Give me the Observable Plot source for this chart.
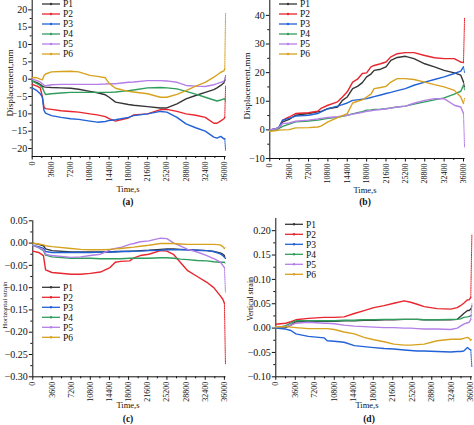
<!DOCTYPE html>
<html><head><meta charset="utf-8">
<script src="https://cdn.jsdelivr.net/npm/d3@7"></script>
<script src="https://cdn.jsdelivr.net/npm/@observablehq/plot@0.6"></script>
<style>
body{margin:0;background:#fff;}
#fig{position:relative;width:474px;height:425px;overflow:hidden;font-family:"Liberation Serif","Times New Roman",serif;color:#111;}
.panel{position:absolute;}
.lbl{position:absolute;font-size:8.5px;white-space:nowrap;transform:translate(-50%,-50%);}
.ylbl{position:absolute;white-space:nowrap;transform:translate(-50%,-50%) rotate(-90deg);}
.cap{position:absolute;font-size:9.5px;font-weight:bold;white-space:nowrap;transform:translate(-50%,-50%);}
#leg{position:absolute;left:0;top:0;pointer-events:none;}
</style></head><body><div id="fig"></div>
<script>
const seriesNames = ["P1","P2","P3","P4","P5","P6"];
const seriesColors = ["#363636","#e8262f","#2162d6","#2f9d5c","#b47fe6","#d7a21f"];
const xTickValues = [0,3600,7200,10800,14400,18000,21600,25200,28800,32400,36000];

// (a) Displacement, mm
const tA = [0,900,1500,1900,2200,2500,3600,5400,7200,8700,10800,12200,13700,14400,15600,18000,19000,21600,24000,25200,27100,28800,30600,32400,34000,34600,35300,35900,36050,36200];
const a1 = [-0.5,-1.0,-1.5,-2.0,-2.2,-2.3,-2.4,-2.5,-2.6,-2.9,-3.5,-3.9,-4.5,-5.2,-6.6,-7.3,-7.5,-7.9,-8.3,-8.3,-7.1,-5.7,-4.7,-3.8,-3.0,-2.5,-1.8,-1.0,-0.4,1.0];
const a2 = [-1.5,-2.0,-2.5,-5.0,-8.0,-8.5,-8.7,-9.1,-9.3,-9.5,-10.0,-10.3,-10.8,-11.4,-12.1,-11.2,-10.3,-10.0,-8.8,-8.7,-9.3,-10.0,-10.4,-11.0,-12.7,-12.7,-12.0,-11.4,-11.0,-2.0];
const a3 = [-2.5,-3.3,-4.2,-5.2,-9.0,-9.8,-10.5,-11.0,-11.4,-11.6,-12.1,-12.4,-12.2,-11.9,-11.7,-11.0,-10.5,-10.0,-9.3,-9.5,-11.0,-12.9,-14.0,-15.0,-16.7,-17.0,-16.5,-17.2,-17.2,-20.5];
const a4 = [-0.5,-1.3,-1.8,-2.5,-3.5,-4.4,-4.2,-4.0,-3.8,-3.8,-3.8,-3.8,-3.8,-3.8,-3.7,-3.3,-3.1,-2.5,-2.4,-2.5,-2.8,-3.5,-4.3,-5.2,-6.0,-6.3,-6.0,-5.7,-5.7,-6.5];
const a5 = [0,-0.4,-0.8,-1.3,-1.7,-1.9,-1.6,-1.5,-1.5,-1.5,-1.5,-1.5,-1.4,-1.3,-1.3,-0.9,-0.8,-0.4,-0.4,-0.5,-0.9,-1.8,-2.0,-2.1,-1.6,-1.3,-0.9,-0.6,-0.2,1.0];
const a6 = [0.5,0.4,0.0,-0.2,1.0,1.5,2.1,2.2,2.3,2.1,1.1,0.8,0.4,-1.2,-2.6,-3.5,-3.7,-4.2,-5.2,-5.2,-4.4,-3.3,-2.0,-0.9,0.6,1.2,2.0,2.4,3.0,19.0];
const yTicksA = [-20,-15,-10,-5,0,5,10,15,20];

// (b) Displacement, mm
const tB = [0,1000,1700,2400,3600,4800,7200,8900,9500,10800,12600,13500,14400,15400,16300,17200,18000,18800,19400,20600,21600,22500,23700,25200,26800,28800,30600,32400,34300,35500,36000,36200];
const b1 = [0,0.2,0.5,2.8,3.7,5.1,5.7,6.3,6.4,7.4,8.0,10.3,11.5,14.4,15.2,16.5,18.5,19.5,20.8,21.2,22.0,24.3,25.3,25.7,24.9,23.1,22.0,20.8,19.9,19.1,16.7,15.0];
const b2 = [0,0.3,0.8,3.4,4.5,5.7,6.0,6.5,7.5,8.6,9.8,11.5,13.3,16.7,17.7,19.7,19.9,22.0,22.5,23.1,23.7,25.5,26.6,27.0,27.0,26.0,25.2,24.9,24.9,23.7,23.5,39.0];
const b3 = [0,0.3,1.0,3.4,4.0,4.8,5.1,5.7,6.3,7.4,8.3,8.8,9.4,10.3,10.5,10.7,10.9,11.3,11.6,12.2,12.7,13.1,13.7,14.4,15.6,16.7,17.6,18.5,19.7,20.5,22.0,20.0];
const b4 = [-0.3,0,0.5,1.2,2.0,2.8,3.1,3.4,3.6,4.0,4.4,4.7,5.1,5.6,6.0,6.4,6.9,7.0,7.1,7.2,7.4,7.7,8.0,8.3,9.0,9.8,10.5,11.2,12.5,13.5,15.6,14.0];
const b5 = [0,0.3,0.8,2.2,2.4,3.0,3.4,3.8,4.0,4.3,4.6,4.9,5.1,5.5,5.8,6.1,6.5,6.7,6.9,7.1,7.4,7.6,8.0,8.3,9.3,10.3,10.9,10.9,8.6,8.0,5.7,-6.0];
const b6 = [-0.5,-0.3,-0.1,0,0.1,0.7,0.8,1.0,1.3,2.8,4.3,5.0,5.7,9.4,10.0,10.5,11.5,12.5,14.4,14.8,15.2,16.7,17.9,17.9,17.6,16.7,15.8,15.0,13.8,11.5,9.2,11.0];
const yTicksB = [-10,0,10,20,30,40];

// (c) Horizontal strain
const tC = [0,1100,2000,2400,3600,7200,9000,10800,12700,13300,14500,15500,16500,18200,19000,20200,21800,24000,25200,26500,27700,29100,30900,32700,34000,35200,35700,36000,36200];
const c1 = [0,-0.003,-0.006,-0.013,-0.017,-0.020,-0.020,-0.020,-0.020,-0.020,-0.020,-0.019,-0.019,-0.018,-0.018,-0.017,-0.016,-0.014,-0.013,-0.013,-0.014,-0.015,-0.016,-0.017,-0.019,-0.022,-0.025,-0.028,-0.035];
const c2 = [-0.018,-0.021,-0.028,-0.060,-0.066,-0.070,-0.070,-0.068,-0.065,-0.062,-0.055,-0.043,-0.041,-0.040,-0.033,-0.028,-0.025,-0.017,-0.018,-0.026,-0.043,-0.062,-0.075,-0.088,-0.100,-0.118,-0.126,-0.135,-0.272];
const c3 = [-0.005,-0.008,-0.012,-0.019,-0.021,-0.021,-0.021,-0.021,-0.020,-0.020,-0.020,-0.020,-0.019,-0.019,-0.018,-0.018,-0.017,-0.016,-0.015,-0.015,-0.015,-0.015,-0.016,-0.017,-0.019,-0.024,-0.028,-0.032,-0.036];
const c4 = [-0.005,-0.010,-0.017,-0.027,-0.031,-0.034,-0.034,-0.034,-0.035,-0.035,-0.035,-0.035,-0.035,-0.034,-0.034,-0.034,-0.034,-0.033,-0.033,-0.034,-0.036,-0.037,-0.039,-0.040,-0.042,-0.043,-0.043,-0.043,-0.047];
const c5 = [-0.005,-0.010,-0.015,-0.025,-0.028,-0.032,-0.031,-0.028,-0.025,-0.022,-0.015,-0.012,-0.010,-0.003,-0.001,0.003,0.005,0.011,0.010,0.000,-0.006,-0.014,-0.020,-0.028,-0.035,-0.042,-0.050,-0.055,-0.110];
const c6 = [0,-0.002,-0.004,-0.006,-0.008,-0.012,-0.014,-0.015,-0.015,-0.015,-0.014,-0.013,-0.012,-0.010,-0.009,-0.007,-0.005,-0.001,-0.001,-0.001,-0.002,-0.003,-0.003,-0.003,-0.003,-0.004,-0.008,-0.012,-0.010];
const yTicksC = [-0.30,-0.25,-0.20,-0.15,-0.10,-0.05,0.00,0.05];

// (d) Vertical strain
const tD = [0,1800,2800,3700,6000,8900,9500,10800,12600,14500,16300,18100,20000,21800,23700,24900,26100,27400,29800,32300,33500,34100,34700,35400,35700,36000,36200];
const d1 = [0,0.001,0.006,0.013,0.014,0.014,0.014,0.014,0.015,0.015,0.016,0.016,0.017,0.017,0.018,0.018,0.018,0.017,0.017,0.017,0.018,0.024,0.030,0.036,0.036,0.039,0.045];
const d2 = [0.008,0.010,0.013,0.017,0.020,0.022,0.022,0.022,0.023,0.030,0.036,0.042,0.046,0.051,0.056,0.053,0.049,0.044,0.040,0.039,0.042,0.046,0.051,0.058,0.058,0.063,0.191];
const d3 = [0,-0.002,-0.005,-0.012,-0.017,-0.020,-0.026,-0.027,-0.029,-0.036,-0.038,-0.040,-0.042,-0.043,-0.045,-0.046,-0.047,-0.047,-0.048,-0.049,-0.048,-0.048,-0.047,-0.040,-0.043,-0.045,-0.080];
const d4 = [0,0.005,0.010,0.015,0.015,0.015,0.015,0.015,0.016,0.016,0.017,0.017,0.018,0.018,0.018,0.018,0.018,0.017,0.017,0.018,0.018,0.019,0.022,0.023,0.024,0.025,0.028];
const d5 = [0.002,0.003,0.006,0.010,0.012,0.010,0.010,0.009,0.006,0.004,0.003,0.002,0.001,0.001,0,0,-0.001,-0.002,-0.002,-0.003,0.000,0.004,0.008,0.011,0.012,0.018,0.050];
const d6 = [0.003,0.003,0.002,0.001,-0.001,-0.001,-0.001,-0.003,-0.008,-0.012,-0.019,-0.024,-0.028,-0.033,-0.035,-0.035,-0.034,-0.033,-0.026,-0.023,-0.023,-0.023,-0.021,-0.019,-0.021,-0.025,-0.022];
const yTicksD = [-0.10,-0.05,0.00,0.05,0.10,0.15,0.20];

const fig = document.getElementById("fig");
const serif = '"Liberation Serif","Times New Roman",serif';
const fmtInt = d => (d < 0 ? "\u2212" : "") + Math.abs(d);
const fmt2 = d => (d < -1e-9 ? "\u2212" : "") + Math.abs(d).toFixed(2);

function rows(t, ys, from, to) {
  const out = [];
  ys.forEach((arr, k) => {
    for (let i = from; i <= to; i++) out.push({t: t[i], v: arr[i], s: seriesNames[k]});
  });
  return out;
}
function midTicks(ticks) {
  const m = [];
  for (let i = 0; i < ticks.length - 1; i++) m.push((ticks[i] + ticks[i+1]) / 2);
  return m;
}

function panel(cfg) {
  const n = cfg.t.length;
  const main = rows(cfg.t, cfg.ys, 0, n - 2);
  const spike = rows(cfg.t, cfg.ys, n - 2, n - 1);
  const chart = Plot.plot({
    width: cfg.w, height: cfg.h,
    marginLeft: cfg.ml, marginRight: cfg.mr, marginTop: cfg.mt, marginBottom: cfg.mb,
    x: {domain: [0, 36300], label: null},
    y: {domain: cfg.yDomain, label: null},
    color: {domain: seriesNames, range: seriesColors},
    style: {fontFamily: serif, fontSize: "9px", color: "#111", background: "transparent", overflow: "visible"},
    marks: [
      Plot.axisX({ticks: xTickValues, tickRotate: -90, tickSize: 3.5, tickPadding: 1.5, fontSize: 8, tickFormat: d => String(d), label: null}),
      Plot.axisX({ticks: midTicks(xTickValues), tickSize: 2, tickFormat: () => "", label: null}),
      Plot.axisY({ticks: cfg.yTicks, tickSize: 3.5, tickPadding: 1.5, fontSize: 10, tickFormat: cfg.fmt, label: null}),
      Plot.axisY({ticks: midTicks(cfg.yTicks), tickSize: 2, tickFormat: () => "", label: null}),
      Plot.ruleX([0], {stroke: "#111", strokeWidth: 1}),
      Plot.ruleY([cfg.yDomain[0]], {stroke: "#111", strokeWidth: 1}),
      Plot.line(main, {x: "t", y: "v", z: "s", stroke: "s", strokeWidth: 1.4}),
      Plot.line(spike, {x: "t", y: "v", z: "s", stroke: "s", strokeWidth: 1, strokeDasharray: "1.2,1"})
    ]
  });
  chart.classList.add("panel");
  chart.style.left = cfg.left + "px";
  chart.style.top = cfg.top + "px";
  fig.appendChild(chart);
}

panel({t: tA, ys: [a1,a2,a3,a4,a5,a6], left: 0, top: 0, w: 237, h: 212, ml: 31.7, mr: 11.4, mt: 0, mb: 56,
  yDomain: [-22.3, 22.7], yTicks: yTicksA, fmt: fmtInt});
panel({t: tB, ys: [b1,b2,b3,b4,b5,b6], left: 237, top: 0, w: 237, h: 212, ml: 32.3, mr: 9.4, mt: 0, mb: 54,
  yDomain: [-10, 45.2], yTicks: yTicksB, fmt: fmtInt});
panel({t: tC, ys: [c1,c2,c3,c4,c5,c6], left: 0, top: 212, w: 237, h: 213, ml: 32.3, mr: 11.5, mt: 8.3, mb: 48.7,
  yDomain: [-0.30, 0.05], yTicks: yTicksC, fmt: fmt2});
panel({t: tD, ys: [d1,d2,d3,d4,d5,d6], left: 237, top: 212, w: 237, h: 213, ml: 38.3, mr: 2.1, mt: 6, mb: 48.7,
  yDomain: [-0.10, 0.225], yTicks: yTicksD, fmt: fmt2});

function addText(cls, txt, x, y, size) {
  const d = document.createElement("div");
  d.className = cls; d.textContent = txt;
  d.style.left = x + "px"; d.style.top = y + "px";
  if (size) d.style.fontSize = size + "px";
  fig.appendChild(d);
}
addText("lbl", "Time,s", 128, 189);
addText("lbl", "Time,s", 365, 190);
addText("lbl", "Time,s", 128, 405);
addText("lbl", "Time,s", 367, 405);
addText("cap", "(a)", 128, 202);
addText("cap", "(b)", 365, 202);
addText("cap", "(c)", 128, 419);
addText("cap", "(d)", 369, 419);
addText("ylbl", "Displacement,mm", 10, 83, 9.2);
addText("ylbl", "Displacement,mm", 247, 86, 9.2);
addText("ylbl", "Horizontal strain", 5, 305, 7);
addText("ylbl", "Vertical strain", 250, 299, 7.9);

// legends
const NS = "http://www.w3.org/2000/svg";
const legendSpots = [[42, 4], [279, 4], [42, 287.3], [285, 224.3]];
const leg = document.createElementNS(NS, "svg");
leg.setAttribute("id", "leg"); leg.setAttribute("width", 474); leg.setAttribute("height", 425);
fig.appendChild(leg);
function el(tag, attrs, parent) {
  const e = document.createElementNS(NS, tag);
  for (const k in attrs) e.setAttribute(k, attrs[k]);
  parent.appendChild(e);
  return e;
}
legendSpots.forEach(([lx, ly]) => {
  seriesNames.forEach((name, k) => {
    const y = ly + k * 10;
    el("line", {x1: lx, x2: lx + 18, y1: y, y2: y, stroke: seriesColors[k], "stroke-width": 1.3}, leg);
    el("circle", {cx: lx + 9, cy: y, r: 1.2, fill: seriesColors[k]}, leg);
    const t = el("text", {x: lx + 21, y: y, dy: "0.35em", "font-family": serif, "font-size": "9.5px", fill: "#111"}, leg);
    t.textContent = name;
  });
});
</script></body></html>
